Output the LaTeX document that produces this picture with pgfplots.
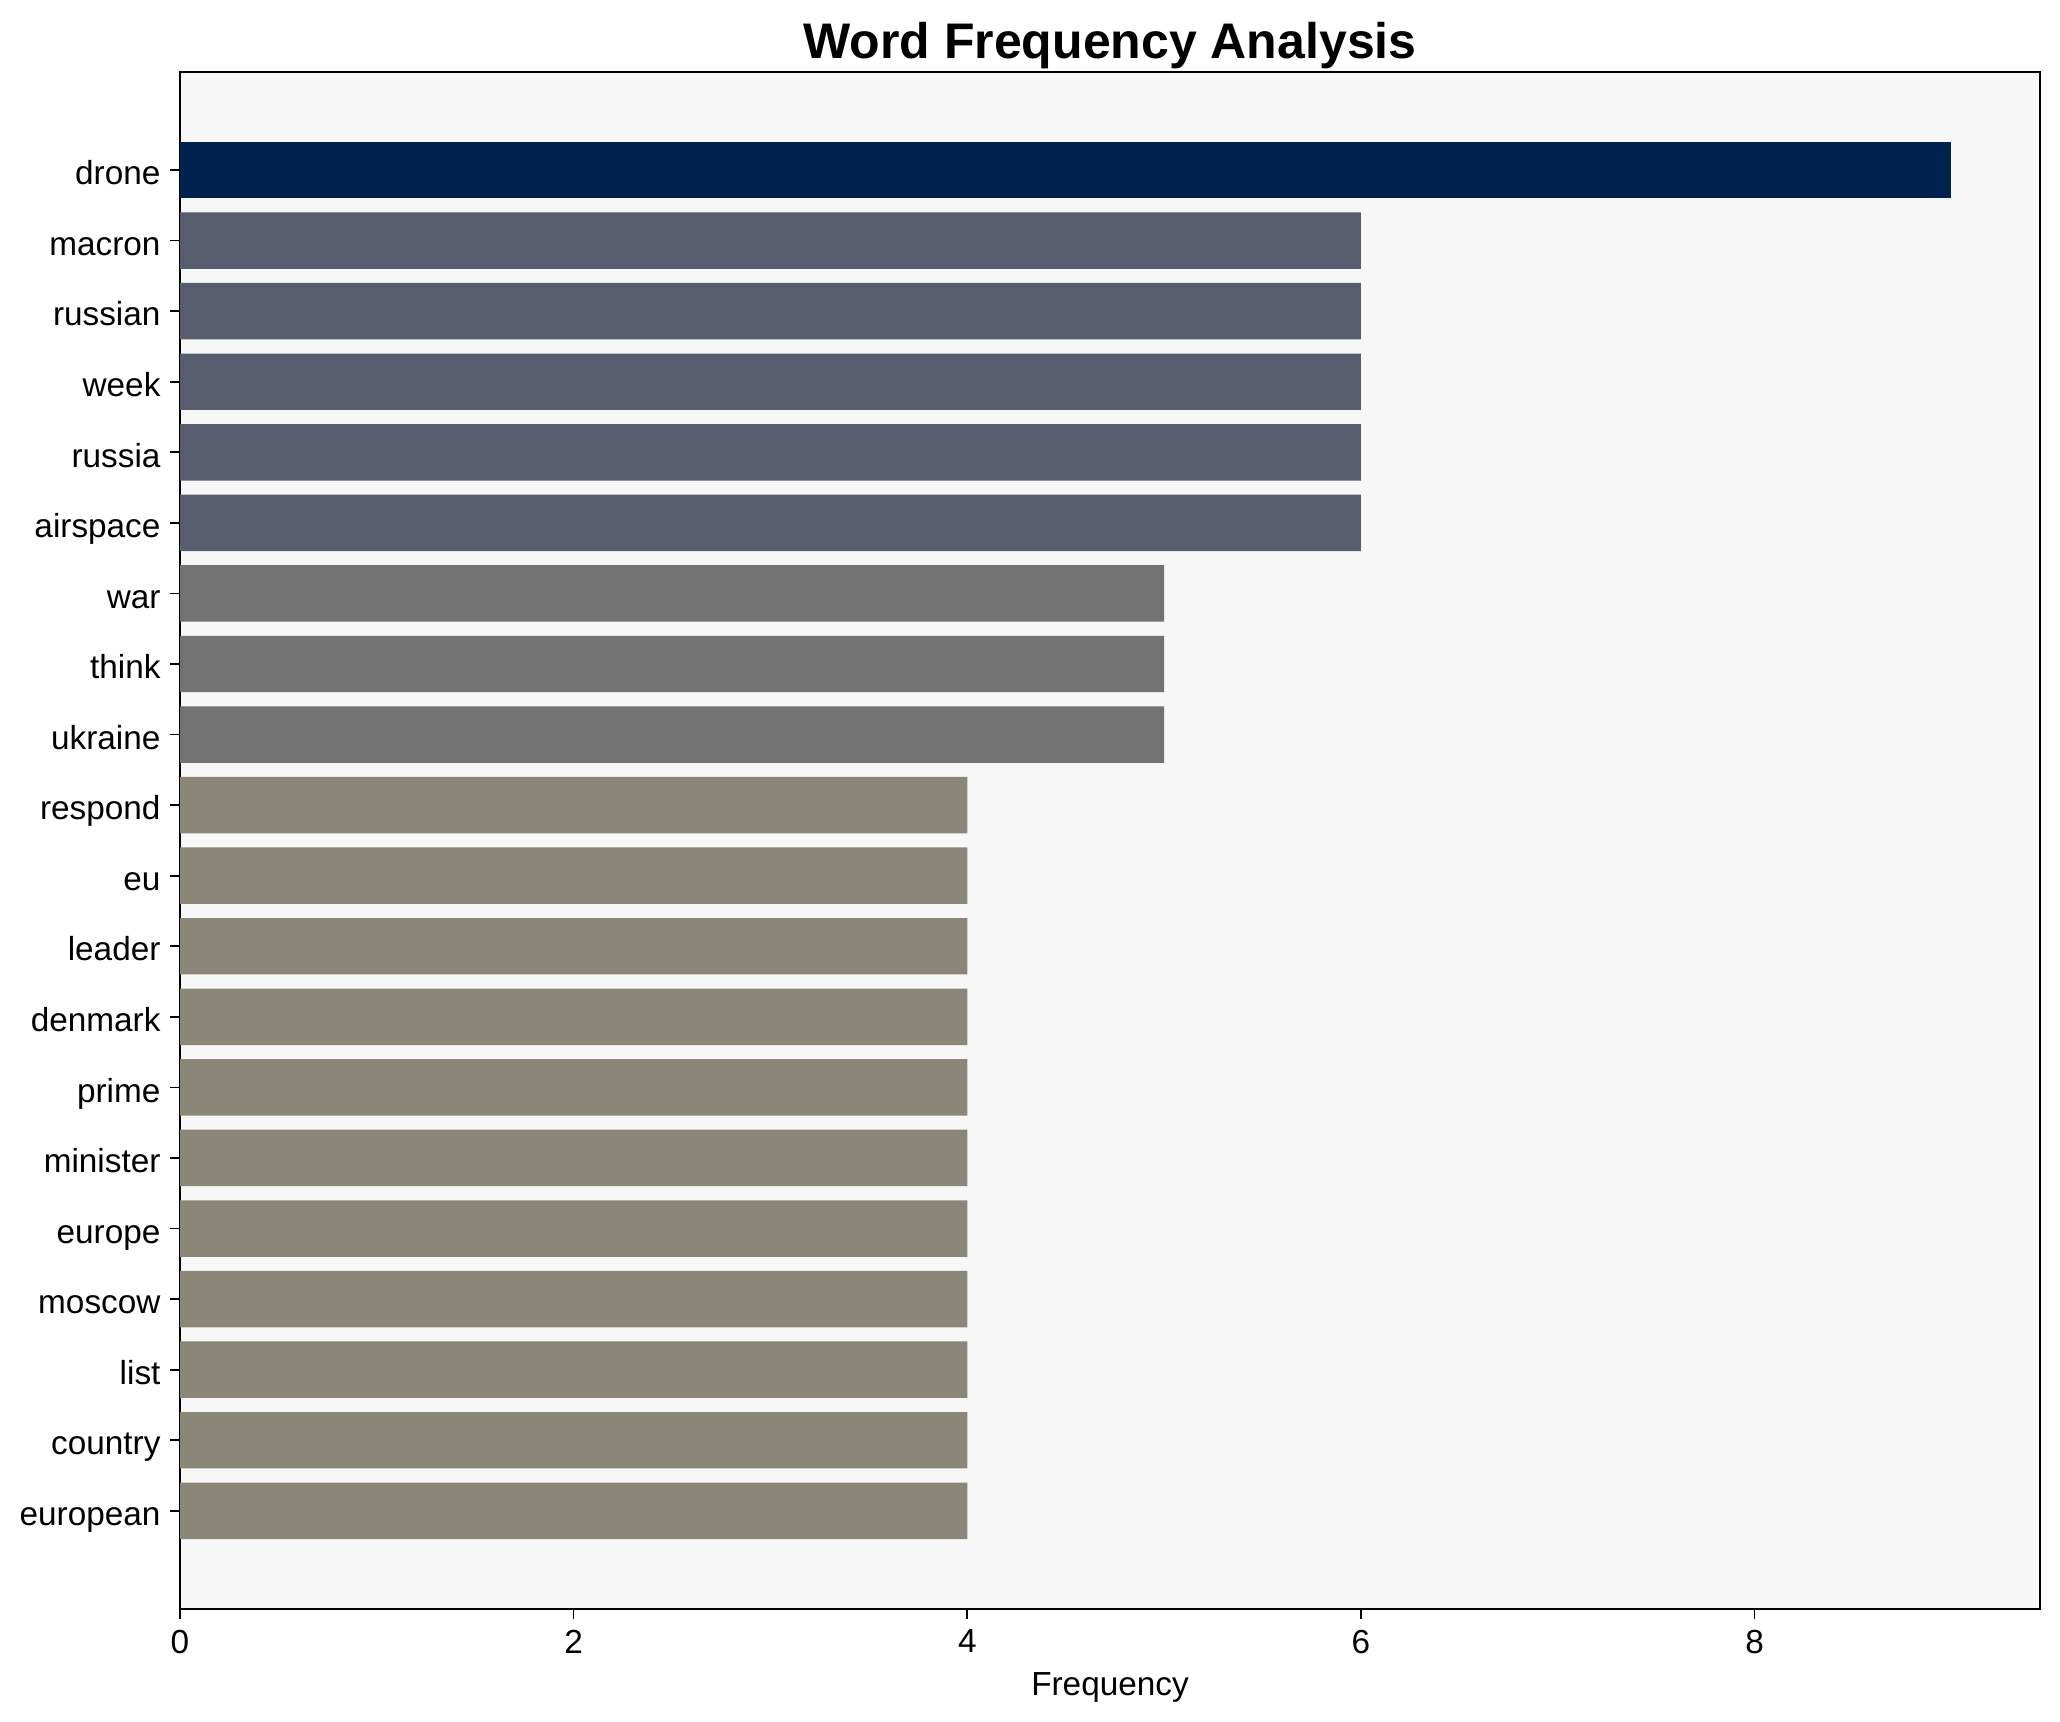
\documentclass[border=0pt]{standalone}
\usepackage{fontspec}
\setmainfont{Liberation Sans}
\usepackage{pgfplots}
\pgfplotsset{compat=1.18}
\definecolor{cA}{HTML}{00224E}
\definecolor{cB}{HTML}{575D6D}
\definecolor{cC}{HTML}{727273}
\definecolor{cD}{HTML}{8A8779}
\definecolor{bg}{HTML}{F7F7F7}
\begin{document}
\begin{tikzpicture}
\begin{axis}[
  scale only axis,
  width=669.6pt, height=553.3pt,
  xbar, bar shift=0pt, bar width=0.8,
  y dir=reverse,
  xmin=0, xmax=9.45,
  ymin=-1.39, ymax=20.39,
  ytick={0,...,19},
  yticklabels={drone,macron,russian,week,russia,airspace,war,think,ukraine,respond,eu,leader,denmark,prime,minister,europe,moscow,list,country,european},
  xtick={0,2,4,6,8},
  tick align=outside,
  major tick length=3.5pt,
  tick style={black, line width=0.6pt},
  xtick pos=bottom, ytick pos=left,
  axis line style={line width=0.8pt},
  axis background/.style={fill=bg},
  ticklabel style={font=\fontsize{12}{14}\selectfont},
  yticklabel style={anchor=base east, yshift=-5.3pt},
  xticklabel style={yshift=-0.5pt},
  /pgf/number format/assume math mode=true,
  title={Word Frequency Analysis},
  title style={font=\bfseries\fontsize{18}{22}\selectfont, at={(axis description cs:0.5,1)}, anchor=base, yshift=-1.2pt},
  xlabel={Frequency},
  xlabel style={font=\fontsize{12}{14}\selectfont, at={(axis description cs:0.5,0)}, anchor=base, yshift=-31pt},
]
\addplot[fill=cA, draw=none] coordinates {(9,0)};
\addplot[fill=cB, draw=none] coordinates {(6,1) (6,2) (6,3) (6,4) (6,5)};
\addplot[fill=cC, draw=none] coordinates {(5,6) (5,7) (5,8)};
\addplot[fill=cD, draw=none] coordinates {(4,9) (4,10) (4,11) (4,12) (4,13) (4,14) (4,15) (4,16) (4,17) (4,18) (4,19)};
\end{axis}
\pgfresetboundingbox
\path ([shift={(-64.8pt,-40.7pt)}]current axis.south west) rectangle ([shift={(7.2pt,25.9pt)}]current axis.north east);
\end{tikzpicture}
\end{document}
